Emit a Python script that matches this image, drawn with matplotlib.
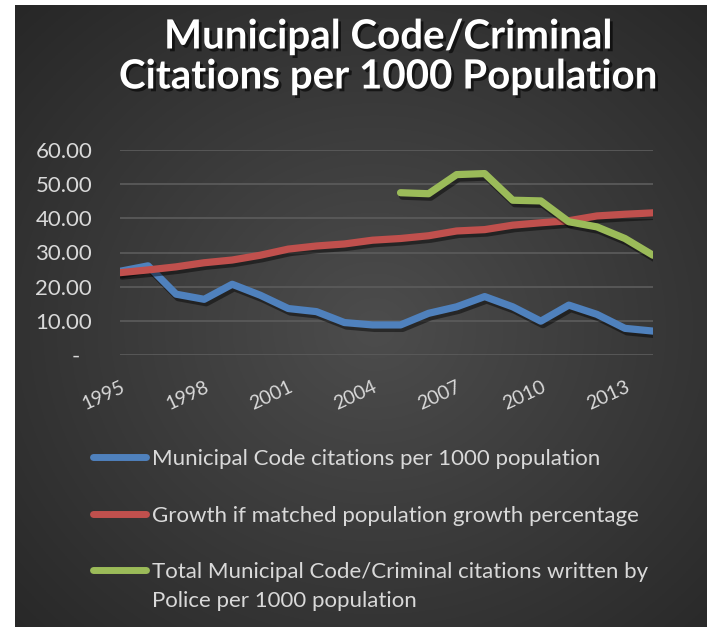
import numpy as np
import matplotlib
matplotlib.use("Agg")
import matplotlib.pyplot as plt
import matplotlib.patheffects as pe
import matplotlib.transforms as mtransforms
from matplotlib.lines import Line2D

# Data
years = list(range(1995, 2015))
municipal = [24.5, 26.1, 17.8, 16.3, 20.7, 17.5, 13.6, 12.7, 9.5, 8.8,
             8.8, 12.2, 14.1, 17.1, 14.1, 9.9, 14.6, 11.9, 7.8, 7.0]
growth = [24.1, 24.9, 25.8, 27.0, 27.8, 29.2, 31.0, 31.9, 32.5, 33.6,
          34.1, 34.9, 36.3, 36.7, 38.0, 38.7, 39.3, 40.7, 41.2, 41.6]
total_years = list(range(2005, 2015))
total = [47.5, 47.2, 52.8, 53.1, 45.3, 45.1, 39.0, 37.5, 34.1, 29.2]

labels = ["Municipal Code citations per 1000 population",
          "Growth if matched population growth percentage",
          "Total Municipal Code/Criminal citations written by\nPolice per 1000 population"]
colors = ["#4F81BD", "#C0504D", "#9BBB59"]

yticks = [0, 10, 20, 30, 40, 50, 60]
ytick_labels = ["-  ", "10.00", "20.00", "30.00", "40.00", "50.00", "60.00"]
xticks = [1995, 1998, 2001, 2004, 2007, 2010, 2013]

FONT = "Lato"
TXT = "#d9d9d9"
W, H = 707, 627
fig = plt.figure(figsize=(W / 100, H / 100), dpi=100)
fig.patch.set_facecolor("white")


def fx(px):
    return px / W


def fy(py):
    return 1 - py / H


# radial gradient background
bg = fig.add_axes([fx(15), 0, 1 - fx(15), 1 - 5 / H])
bg.set_axis_off()
gx, gy = np.meshgrid(np.linspace(0, 1, 400), np.linspace(0, 1, 400))
r = np.sqrt(((gx - 0.52) / 0.75) ** 2 + ((gy - 0.48) / 0.75) ** 2)
r = np.clip(r, 0, 1)
shade = 0.30 - 0.15 * r
img = np.dstack([shade, shade, shade])
bg.imshow(img, extent=[0, 1, 0, 1], aspect="auto", origin="lower")

ax = fig.add_axes([fx(120), fy(355), fx(653) - fx(120), fy(150) - fy(355)])
ax.set_facecolor("none")
ax.set_xlim(1995, 2014)
ax.set_ylim(0, 60)
for s in ax.spines.values():
    s.set_visible(False)
ax.set_yticks(yticks)
ax.set_yticklabels(ytick_labels, fontsize=16, color=TXT, family=FONT)
ax.set_xticks(xticks)
ax.set_xticklabels([str(x) for x in xticks], fontsize=14, color=TXT,
                   family=FONT, rotation=25, ha="right", va="top",
                   rotation_mode="anchor")
shift = mtransforms.ScaledTranslation(4 / 100, 0, fig.dpi_scale_trans)
for lab in ax.get_xticklabels():
    lab.set_transform(lab.get_transform() + shift)
ax.tick_params(length=0)
ax.tick_params(axis="y", pad=20)
ax.tick_params(axis="x", pad=17)
ax.grid(axis="y", color="#5a5a5a", linewidth=1.3)
ax.set_axisbelow(True)

shadow = [pe.SimpleLineShadow(offset=(1.5, -2.5), shadow_color="black", alpha=0.45),
          pe.Normal()]
series = [(years, municipal), (years, growth), (total_years, total)]
for (xs, ys), c, lab in zip(series, colors, labels):
    ax.plot(xs, ys, color=c, linewidth=5.2, solid_capstyle="round",
            solid_joinstyle="round", path_effects=shadow, label=lab)

# legend rows
row_y = [457, 514, 570]
for y, c, lab in zip(row_y, colors, labels):
    fig.add_artist(Line2D([fx(93), fx(146)], [fy(y), fy(y)], color=c,
                          linewidth=5, solid_capstyle="round"))
    fig.text(fx(152), fy(y - 8), lab, ha="left", va="top", fontsize=16,
             color=TXT, family=FONT, linespacing=1.55)

fig.text(fx(388), fy(57), "Municipal Code/Criminal\nCitations per 1000 Population",
         ha="center", va="center", fontsize=29, fontweight="bold", color="white",
         family=FONT, linespacing=1.1,
         path_effects=[pe.withSimplePatchShadow(offset=(2, -2), shadow_rgbFace="black", alpha=0.6)])

fig.savefig("out.png", dpi=100)
